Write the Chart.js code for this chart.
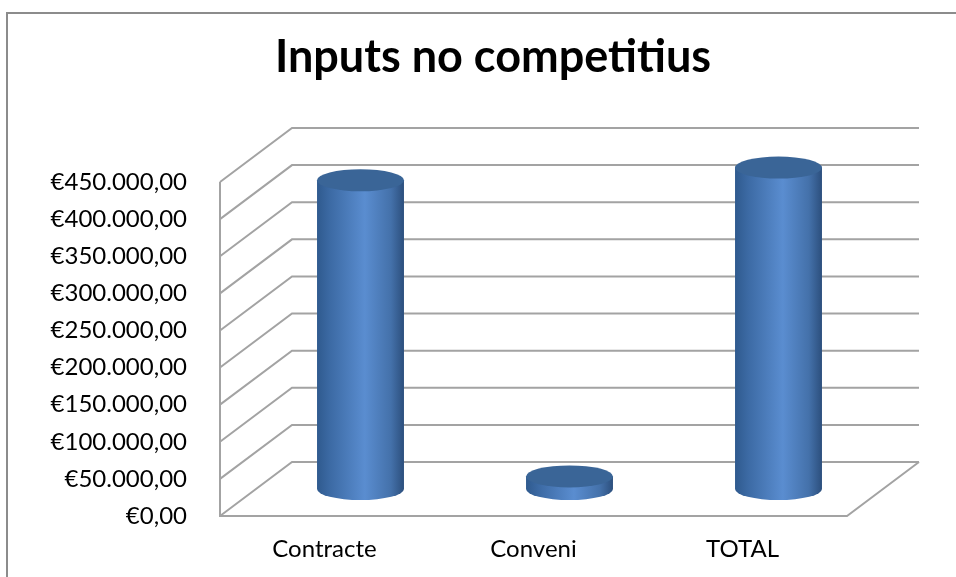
<!DOCTYPE html>
<html>
<head>
<meta charset="utf-8">
<title>Inputs no competitius</title>
<script src="https://cdn.jsdelivr.net/npm/chart.js@4.4.1/dist/chart.umd.min.js"></script>
<style>
  html, body { margin: 0; padding: 0; background: #fff; }
  #wrap { width: 956px; height: 577px; }
</style>
</head>
<body>
<div id="wrap"><canvas id="chart" width="956" height="577"></canvas></div>
<script>
// DATA
const categories = ["Contracte", "Conveni", "TOTAL"];
const amounts = [416000, 17000, 433000];
const axisMin = 0;
const axisMax = 450000;
const axisStep = 50000;

// 3D LOOK
const DEPTH_X = 72;
const DEPTH_Y = -54;
const GRID_COLOR = "#a3a3a3";
const FONT = "Lato";

function euro(v) {
    const whole = Math.round(v).toString().replace(/\B(?=(\d{3})+(?!\d))/g, ".");
    return "€" + whole + ",00";
}

function drawCylinder(ctx, cx, top, base, rx, ry) {
    ctx.save();
    const g = ctx.createLinearGradient(cx - rx, 0, cx + rx, 0);
    g.addColorStop(0, "#2f5a8e");
    g.addColorStop(0.15, "#3c6aa4");
    g.addColorStop(0.55, "#5a8dd0");
    g.addColorStop(0.85, "#4471aa");
    g.addColorStop(1, "#2c4f7d");
    ctx.beginPath();
    ctx.moveTo(cx - rx, top);
    ctx.lineTo(cx - rx, base);
    ctx.ellipse(cx, base, rx, ry, 0, Math.PI, 0, true);
    ctx.lineTo(cx + rx, top);
    ctx.closePath();
    ctx.fillStyle = g;
    ctx.fill();
    // top cap
    ctx.beginPath();
    ctx.ellipse(cx, top, rx, ry, 0, 0, Math.PI * 2);
    ctx.fillStyle = "#3a6597";
    ctx.fill();
    ctx.restore();
}

const frame3d = {
    id: "frame3d",
    beforeDraw(chart) {
        const ctx = chart.ctx;
        ctx.save();
        ctx.strokeStyle = "#8c8c8c";
        ctx.lineWidth = 2;
        ctx.beginPath();
        ctx.moveTo(7, chart.height);
        ctx.lineTo(7, 13);
        ctx.lineTo(chart.width, 13);
        ctx.stroke();
        ctx.restore();
    },
    beforeDatasetsDraw(chart) {
        const ctx = chart.ctx;
        const a = chart.chartArea;
        const y = chart.scales.y;
        ctx.save();
        ctx.strokeStyle = GRID_COLOR;
        ctx.lineWidth = 2;
        // side wall + back wall gridlines
        y.ticks.forEach(t => {
            const py = y.getPixelForValue(t.value);
            ctx.beginPath();
            ctx.moveTo(a.left, py);
            ctx.lineTo(a.left + DEPTH_X, py + DEPTH_Y);
            ctx.lineTo(a.right + DEPTH_X, py + DEPTH_Y);
            ctx.stroke();
        });
        // front wall edge and floor
        ctx.beginPath();
        ctx.moveTo(a.left, y.getPixelForValue(axisMax));
        ctx.lineTo(a.left, a.bottom);
        ctx.lineTo(a.right, a.bottom);
        ctx.lineTo(a.right + DEPTH_X, a.bottom + DEPTH_Y);
        ctx.stroke();
        ctx.restore();
    },
    afterDatasetsDraw(chart) {
        const ctx = chart.ctx;
        const y = chart.scales.y;
        const base = y.getPixelForValue(0) + DEPTH_Y / 2;
        chart.getDatasetMeta(0).data.forEach(bar => {
            drawCylinder(ctx, bar.x + DEPTH_X / 2, bar.y + DEPTH_Y / 2, base, bar.width / 2, 11);
        });
    }
};

new Chart(document.getElementById("chart"), {
    type: "bar",
    data: {
        labels: categories,
        datasets: [{
            data: amounts,
            backgroundColor: "rgba(0,0,0,0)",
            borderWidth: 0,
            barPercentage: 0.416,
            categoryPercentage: 1
        }]
    },
    options: {
        responsive: false,
        animation: false,
        layout: { padding: { left: 30, right: 0, top: 0, bottom: 0 } },
        plugins: {
            legend: { display: false },
            tooltip: { enabled: false },
            title: {
                display: true,
                text: "Inputs no competitius",
                color: "#000",
                font: { family: FONT, size: 45, weight: "bold" },
                padding: { top: 30, bottom: 98 }
            }
        },
        scales: {
            x: {
                grid: { display: false, drawTicks: false },
                border: { display: false },
                ticks: { color: "#000", font: { family: FONT, size: 24 }, padding: 19 },
                afterFit(s) { s.height = 61; }
            },
            y: {
                min: axisMin,
                max: axisMax,
                grid: { display: false, drawTicks: false },
                border: { display: false },
                ticks: {
                    stepSize: axisStep,
                    color: "#000",
                    font: { family: FONT, size: 24 },
                    padding: 33,
                    callback: v => euro(v)
                },
                afterFit(s) { s.width = 190; }
            },
            // empty axis, only keeps room for the depth on the right
            yRight: {
                position: "right",
                grid: { display: false, drawTicks: false },
                border: { display: false },
                ticks: { display: false },
                afterFit(s) { s.width = 109; }
            }
        }
    },
    plugins: [frame3d]
});
</script>
</body>
</html>
